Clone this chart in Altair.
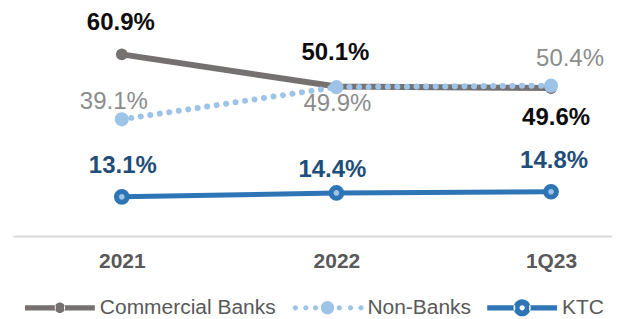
import altair as alt
import pandas as pd

periods = ["2021", "2022", "1Q23"]
series = ["Commercial Banks", "Non-Banks", "KTC"]
commercial = [60.9, 50.1, 49.6]
nonbanks = [39.1, 49.9, 50.4]
ktc = [13.1, 14.4, 14.8]
colors = ["#767171", "#9DC3E6", "#2E75B6"]

rows = []
for s, vals in zip(series, [commercial, nonbanks, ktc]):
    for i, (p, v) in enumerate(zip(periods, vals)):
        rows.append({"series": s, "period": p, "idx": i, "value": v, "label": f"{v:.1f}%"})
df = pd.DataFrame(rows)


def circ(cx, r, sweep=0):
    return (f"M{cx - r:.3f},0A{r},{r} 0 1,{sweep} {cx + r:.3f},0"
            f"A{r},{r} 0 1,{sweep} {cx - r:.3f},0Z")


def rect(x0, x1, h):
    return f"M{x0},{-h}L{x1},{-h}L{x1},{h}L{x0},{h}Z"


# legend symbol shapes (line + marker), unit box -1..1
sym_cb = rect(-1, -0.12, 0.075) + rect(0.12, 1, 0.075) + circ(0, 0.15)
sym_nb = "".join(circ(c, 0.075) for c in [-0.92, -0.62, -0.34, 0.34, 0.66, 0.96]) + circ(0, 0.19)
sym_ktc = rect(-1, -0.2, 0.075) + rect(0.2, 1, 0.075) + circ(0, 0.245, 0) + circ(0, 0.075, 1)

label_expr = "datum.value == 0 ? '2021' : datum.value == 1 ? '2022' : '1Q23'"

x_enc = alt.X("idx:Q", scale=alt.Scale(domain=[-0.507, 2.284], nice=False, zero=False),
              axis=alt.Axis(values=[0, 1, 2], labelExpr=label_expr, title=None, ticks=False,
                            grid=False, domainColor="#D9D9D9", domainWidth=2,
                            labelFont="Liberation Sans", labelFontSize=21, labelFontWeight="bold",
                            labelColor="#595959", labelPadding=15))
y_enc = alt.Y("value:Q", scale=alt.Scale(domain=[0, 70], nice=False), axis=None)

base = alt.Chart(df).encode(x=x_enc, y=y_enc)

# legend-only layer (no rows drawn); legend entries come from the scale domains
legend_layer = base.transform_filter("false").mark_point(filled=True, opacity=1).encode(
    color=alt.Color("series:N", scale=alt.Scale(domain=series, range=colors), sort=series,
                    legend=alt.Legend(title=None, orient="none", legendX=12, legendY=246,
                                      direction="horizontal", symbolSize=4900, symbolStrokeWidth=0,
                                      symbolOpacity=1, labelLimit=400,
                                      labelFont="Liberation Sans", labelFontSize=21,
                                      labelColor="#595959", labelOffset=5, columnPadding=16)),
    shape=alt.Shape("series:N", scale=alt.Scale(domain=series, range=[sym_cb, sym_nb, sym_ktc]),
                    sort=series, legend=alt.Legend(title=None)),
)

line_cb = base.transform_filter(alt.datum.series == "Commercial Banks").mark_line(
    strokeWidth=6, strokeCap="round", color="#767171")
line_nb = base.transform_filter(alt.datum.series == "Non-Banks").mark_line(
    strokeWidth=6, strokeCap="round", strokeDash=[0.1, 9.5], color="#9DC3E6")
line_ktc = base.transform_filter(alt.datum.series == "KTC").mark_line(
    strokeWidth=5, strokeCap="round", color="#2E75B6")

pt_cb = base.transform_filter(alt.datum.series == "Commercial Banks").mark_circle(
    size=140, color="#767171", opacity=1)
pt_nb = base.transform_filter(alt.datum.series == "Non-Banks").mark_circle(
    size=200, color="#9DC3E6", opacity=1)
pt_ktc = base.transform_filter(alt.datum.series == "KTC").mark_point(
    shape="circle", size=115, filled=True, fill="#9DC3E6", stroke="#2E75B6", strokeWidth=5, opacity=1)


def lab(s, p, dx, dy, color, weight):
    return base.transform_filter((alt.datum.series == s) & (alt.datum.period == p)).mark_text(
        dx=dx, dy=dy, font="Liberation Sans", fontSize=24, fontWeight=weight, color=color,
        baseline="middle", align="center").encode(text="label:N")


labels = [
    lab("Commercial Banks", "2021", -1, -31, "#0D0D0D", "bold"),
    lab("Commercial Banks", "2022", -1, -34, "#0D0D0D", "bold"),
    lab("Commercial Banks", "1Q23", 5, 30, "#0D0D0D", "bold"),
    lab("Non-Banks", "2021", -8, -17, "#8C8C8C", "normal"),
    lab("Non-Banks", "2022", 1, 17, "#8C8C8C", "normal"),
    lab("Non-Banks", "1Q23", 19, -27, "#8C8C8C", "normal"),
    lab("KTC", "2021", 1, -31, "#1F4E79", "bold"),
    lab("KTC", "2022", -4, -23, "#1F4E79", "bold"),
    lab("KTC", "1Q23", 3, -31, "#1F4E79", "bold"),
]

chart = alt.layer(legend_layer, line_cb, line_nb, line_ktc, pt_cb, pt_nb, pt_ktc, *labels).properties(
    width=600, height=209,
    autosize=alt.AutoSizeParams(type="none"),
    padding={"left": 5, "top": 19, "right": 0, "bottom": 84},
).configure_view(stroke=None)

chart.save("out.html", embed_options={"renderer": "svg", "actions": False})
